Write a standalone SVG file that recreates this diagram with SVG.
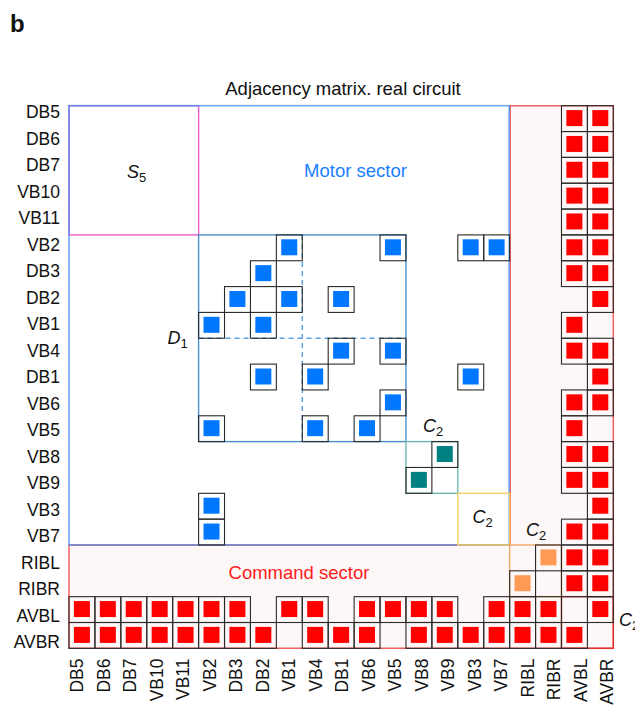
<svg xmlns="http://www.w3.org/2000/svg" xmlns:xlink="http://www.w3.org/1999/xlink" width="635" height="705" viewBox="0 0 635 705">
<style>
text{font-family:"Liberation Sans",Arial,Helvetica,sans-serif;fill:#111}
.rl{font-size:17.5px;text-anchor:end}
.cl{font-size:17.5px;text-anchor:end}
.c{fill:none;stroke:#2a2a2a;stroke-width:1.1}
.it{font-style:italic;font-size:18px}
.sub{font-style:normal;font-size:13px}
</style>
<defs>
<g id="R"><rect class="c" width="25.92" height="25.84"/><rect x="4.9" y="4.4" width="16" height="16" fill="#ff0000"/></g>
<g id="B"><rect class="c" width="25.92" height="25.84"/><rect x="4.9" y="4.4" width="16" height="16" fill="#0077ff"/></g>
<g id="T"><rect class="c" width="25.92" height="25.84"/><rect x="4.9" y="4.4" width="16" height="16" fill="#008080"/></g>
<g id="O"><rect class="c" width="25.92" height="25.84"/><rect x="4.9" y="4.4" width="16" height="16" fill="#ff9a55"/></g>
</defs>
<rect width="635" height="705" fill="#ffffff"/>
<text x="10" y="31.5" font-size="24" font-weight="bold">b</text>
<text x="343" y="95" font-size="18.5" text-anchor="middle">Adjacency matrix. real circuit</text>

<g id="regions">
<path id="command-sector" d="M69,544.98 H510.2 V105.7 H613.32 V648.34 H69 Z" fill="#fdf8f7" stroke="#f06060" stroke-width="1.5"/>
<rect id="s5-box" x="69" y="105.7" width="129.6" height="129.2" fill="none" stroke="#ee66cc" stroke-width="1.5"/>
<rect id="motor-sector" x="69" y="105.7" width="440.2" height="439.28" fill="none" stroke="#3a8ef0" stroke-opacity="0.75" stroke-width="1.6"/>
<rect id="d1-box" x="198.6" y="234.9" width="207.36" height="206.72" fill="none" stroke="#4a90d0" stroke-width="1.4"/>
<path d="M198.6,338.26 H405.96 M302.28,234.9 V441.62" fill="none" stroke="#5aa0e8" stroke-width="1.4" stroke-dasharray="5,4"/>
<rect id="c2-teal" x="405.96" y="441.62" width="51.84" height="51.68" fill="none" stroke="#70b8b0" stroke-width="1.4"/>
<rect id="c2-yellow" x="457.8" y="493.3" width="51.84" height="51.68" fill="none" stroke="#f5d060" stroke-width="1.4"/>
<rect id="c2-orange" x="509.64" y="544.98" width="51.84" height="51.68" fill="none" stroke="#f0a868" stroke-width="1.4"/>
<rect id="c2-red" x="561.48" y="596.66" width="51.84" height="51.68" fill="none" stroke="#e03030" stroke-width="1.4"/>
</g>

<g id="cells">
<g id="row-DB5"><use href="#R" x="561.48" y="105.7"/><use href="#R" x="587.4" y="105.7"/></g>
<g id="row-DB6"><use href="#R" x="561.48" y="131.54"/><use href="#R" x="587.4" y="131.54"/></g>
<g id="row-DB7"><use href="#R" x="561.48" y="157.38"/><use href="#R" x="587.4" y="157.38"/></g>
<g id="row-VB10"><use href="#R" x="561.48" y="183.22"/><use href="#R" x="587.4" y="183.22"/></g>
<g id="row-VB11"><use href="#R" x="561.48" y="209.06"/><use href="#R" x="587.4" y="209.06"/></g>
<g id="row-VB2"><use href="#B" x="276.36" y="234.9"/><use href="#B" x="380.04" y="234.9"/><use href="#B" x="457.8" y="234.9"/><use href="#B" x="483.72" y="234.9"/><use href="#R" x="561.48" y="234.9"/><use href="#R" x="587.4" y="234.9"/></g>
<g id="row-DB3"><use href="#B" x="250.44" y="260.74"/><use href="#R" x="561.48" y="260.74"/><use href="#R" x="587.4" y="260.74"/></g>
<g id="row-DB2"><use href="#B" x="224.52" y="286.58"/><use href="#B" x="276.36" y="286.58"/><use href="#B" x="328.2" y="286.58"/><use href="#R" x="587.4" y="286.58"/></g>
<g id="row-VB1"><use href="#B" x="198.6" y="312.42"/><use href="#B" x="250.44" y="312.42"/><use href="#R" x="561.48" y="312.42"/></g>
<g id="row-VB4"><use href="#B" x="328.2" y="338.26"/><use href="#B" x="380.04" y="338.26"/><use href="#R" x="561.48" y="338.26"/><use href="#R" x="587.4" y="338.26"/></g>
<g id="row-DB1"><use href="#B" x="250.44" y="364.1"/><use href="#B" x="302.28" y="364.1"/><use href="#B" x="457.8" y="364.1"/><use href="#R" x="587.4" y="364.1"/></g>
<g id="row-VB6"><use href="#B" x="380.04" y="389.94"/><use href="#R" x="561.48" y="389.94"/><use href="#R" x="587.4" y="389.94"/></g>
<g id="row-VB5"><use href="#B" x="198.6" y="415.78"/><use href="#B" x="302.28" y="415.78"/><use href="#B" x="354.12" y="415.78"/><use href="#R" x="561.48" y="415.78"/></g>
<g id="row-VB8"><use href="#T" x="431.88" y="441.62"/><use href="#R" x="561.48" y="441.62"/><use href="#R" x="587.4" y="441.62"/></g>
<g id="row-VB9"><use href="#T" x="405.96" y="467.46"/><use href="#R" x="561.48" y="467.46"/><use href="#R" x="587.4" y="467.46"/></g>
<g id="row-VB3"><use href="#B" x="198.6" y="493.3"/><use href="#R" x="587.4" y="493.3"/></g>
<g id="row-VB7"><use href="#B" x="198.6" y="519.14"/><use href="#R" x="561.48" y="519.14"/><use href="#R" x="587.4" y="519.14"/></g>
<g id="row-RIBL"><use href="#O" x="535.56" y="544.98"/><use href="#R" x="561.48" y="544.98"/><use href="#R" x="587.4" y="544.98"/></g>
<g id="row-RIBR"><use href="#O" x="509.64" y="570.82"/><use href="#R" x="561.48" y="570.82"/><use href="#R" x="587.4" y="570.82"/></g>
<g id="row-AVBL"><use href="#R" x="69" y="596.66"/><use href="#R" x="94.92" y="596.66"/><use href="#R" x="120.84" y="596.66"/><use href="#R" x="146.76" y="596.66"/><use href="#R" x="172.68" y="596.66"/><use href="#R" x="198.6" y="596.66"/><use href="#R" x="224.52" y="596.66"/><use href="#R" x="276.36" y="596.66"/><use href="#R" x="302.28" y="596.66"/><use href="#R" x="354.12" y="596.66"/><use href="#R" x="380.04" y="596.66"/><use href="#R" x="405.96" y="596.66"/><use href="#R" x="431.88" y="596.66"/><use href="#R" x="483.72" y="596.66"/><use href="#R" x="509.64" y="596.66"/><use href="#R" x="535.56" y="596.66"/><use href="#R" x="587.4" y="596.66"/></g>
<g id="row-AVBR"><use href="#R" x="69" y="622.5"/><use href="#R" x="94.92" y="622.5"/><use href="#R" x="120.84" y="622.5"/><use href="#R" x="146.76" y="622.5"/><use href="#R" x="172.68" y="622.5"/><use href="#R" x="198.6" y="622.5"/><use href="#R" x="224.52" y="622.5"/><use href="#R" x="250.44" y="622.5"/><use href="#R" x="302.28" y="622.5"/><use href="#R" x="328.2" y="622.5"/><use href="#R" x="354.12" y="622.5"/><use href="#R" x="405.96" y="622.5"/><use href="#R" x="431.88" y="622.5"/><use href="#R" x="457.8" y="622.5"/><use href="#R" x="483.72" y="622.5"/><use href="#R" x="509.64" y="622.5"/><use href="#R" x="535.56" y="622.5"/><use href="#R" x="561.48" y="622.5"/></g>
</g>

<g id="region-labels">
<text x="355.5" y="176.7" font-size="18.5" text-anchor="middle" style="fill:#1a80ff">Motor sector</text>
<text x="299" y="579.3" font-size="18.5" text-anchor="middle" style="fill:#ff1a1a">Command sector</text>
<text class="it" x="127" y="178">S<tspan class="sub" dy="4">5</tspan></text>
<text class="it" x="167.5" y="344">D<tspan class="sub" dy="4">1</tspan></text>
<text class="it" x="423" y="432">C<tspan class="sub" dy="4">2</tspan></text>
<text class="it" x="472.5" y="523">C<tspan class="sub" dy="4">2</tspan></text>
<text class="it" x="526" y="535.5">C<tspan class="sub" dy="4">2</tspan></text>
<text class="it" x="619" y="626">C<tspan class="sub" dy="4">2</tspan></text>
</g>

<g id="row-labels">
<text class="rl" x="60" y="118.3">DB5</text>
<text class="rl" x="60" y="144.8">DB6</text>
<text class="rl" x="60" y="171.3">DB7</text>
<text class="rl" x="60" y="197.8">VB10</text>
<text class="rl" x="60" y="224.3">VB11</text>
<text class="rl" x="60" y="250.8">VB2</text>
<text class="rl" x="60" y="277.3">DB3</text>
<text class="rl" x="60" y="303.8">DB2</text>
<text class="rl" x="60" y="330.3">VB1</text>
<text class="rl" x="60" y="356.8">VB4</text>
<text class="rl" x="60" y="383.3">DB1</text>
<text class="rl" x="60" y="409.8">VB6</text>
<text class="rl" x="60" y="436.3">VB5</text>
<text class="rl" x="60" y="462.8">VB8</text>
<text class="rl" x="60" y="489.3">VB9</text>
<text class="rl" x="60" y="515.8">VB3</text>
<text class="rl" x="60" y="542.3">VB7</text>
<text class="rl" x="60" y="568.8">RIBL</text>
<text class="rl" x="60" y="595.3">RIBR</text>
<text class="rl" x="60" y="621.8">AVBL</text>
<text class="rl" x="60" y="648.3">AVBR</text>
</g>

<g id="col-labels">
<text class="cl" transform="translate(83.3,658.5) rotate(-90)">DB5</text>
<text class="cl" transform="translate(109.8,658.5) rotate(-90)">DB6</text>
<text class="cl" transform="translate(136.3,658.5) rotate(-90)">DB7</text>
<text class="cl" transform="translate(162.8,658.5) rotate(-90)">VB10</text>
<text class="cl" transform="translate(189.3,658.5) rotate(-90)">VB11</text>
<text class="cl" transform="translate(215.8,658.5) rotate(-90)">VB2</text>
<text class="cl" transform="translate(242.3,658.5) rotate(-90)">DB3</text>
<text class="cl" transform="translate(268.8,658.5) rotate(-90)">DB2</text>
<text class="cl" transform="translate(295.3,658.5) rotate(-90)">VB1</text>
<text class="cl" transform="translate(321.8,658.5) rotate(-90)">VB4</text>
<text class="cl" transform="translate(348.3,658.5) rotate(-90)">DB1</text>
<text class="cl" transform="translate(374.8,658.5) rotate(-90)">VB6</text>
<text class="cl" transform="translate(401.3,658.5) rotate(-90)">VB5</text>
<text class="cl" transform="translate(427.8,658.5) rotate(-90)">VB8</text>
<text class="cl" transform="translate(454.3,658.5) rotate(-90)">VB9</text>
<text class="cl" transform="translate(480.8,658.5) rotate(-90)">VB3</text>
<text class="cl" transform="translate(507.3,658.5) rotate(-90)">VB7</text>
<text class="cl" transform="translate(533.8,658.5) rotate(-90)">RIBL</text>
<text class="cl" transform="translate(560.3,658.5) rotate(-90)">RIBR</text>
<text class="cl" transform="translate(586.8,658.5) rotate(-90)">AVBL</text>
<text class="cl" transform="translate(613.3,658.5) rotate(-90)">AVBR</text>
</g>
</svg>
